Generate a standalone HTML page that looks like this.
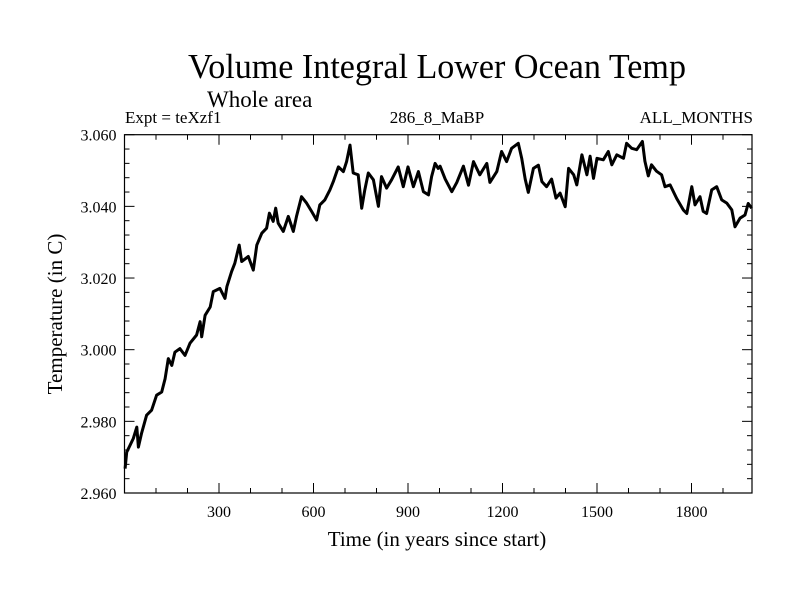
<!DOCTYPE html>
<html><head><meta charset="utf-8"><style>
html,body{margin:0;padding:0;background:#fff;}
svg{display:block;font-family:"Liberation Serif",serif;}
</style></head><body>
<svg id="chart" width="800" height="600" viewBox="0 0 800 600" xmlns="http://www.w3.org/2000/svg">
<rect width="800" height="600" fill="#fff"/>
<text x="437" y="78" font-size="35" text-anchor="middle" textLength="498" lengthAdjust="spacingAndGlyphs">Volume Integral Lower Ocean Temp</text>
<text x="207" y="107" font-size="23">Whole area</text>
<text x="125" y="123" font-size="17">Expt = teXzf1</text>
<text x="437" y="123" font-size="17" text-anchor="middle">286_8_MaBP</text>
<text x="753" y="123" font-size="17" text-anchor="end">ALL_MONTHS</text>
<g id="axes"></g>
<g id="series"></g>
<text x="437" y="546" font-size="21" text-anchor="middle">Time (in years since start)</text>
<text transform="translate(62,314) rotate(-90)" font-size="21" text-anchor="middle">Temperature (in C)</text>
</svg>
<script>
const years = [2,7,28,39,44,54,70,86,102,118,129,139,150,160,176,192,208,229,240,245,256,272,282,303,319,325,340,350,364,372,393,409,420,436,451,460,472,480,488,504,520,536,546,562,578,594,610,620,636,652,663,679,695,705,716,726,742,753,763,774,790,806,816,832,848,869,885,900,917,933,949,965,975,986,996,1002,1018,1039,1055,1076,1092,1108,1128,1150,1160,1182,1197,1213,1229,1250,1261,1272,1282,1298,1314,1325,1340,1356,1370,1383,1399,1410,1426,1436,1452,1468,1478,1489,1500,1520,1536,1547,1563,1584,1594,1610,1626,1644,1652,1663,1673,1689,1705,1716,1732,1753,1774,1785,1801,1811,1827,1837,1848,1864,1880,1896,1912,1928,1938,1954,1970,1980,1991];
const temps = [2.9668,2.9714,2.9752,2.9784,2.9728,2.9766,2.9817,2.9831,2.9873,2.9882,2.9919,2.9975,2.9956,2.9993,3.0003,2.9984,3.0018,3.0041,3.0078,3.0036,3.0096,3.0119,3.0162,3.0171,3.0143,3.0176,3.0218,3.0241,3.0292,3.0246,3.0260,3.0222,3.0292,3.0325,3.0339,3.0381,3.0358,3.0395,3.0353,3.0330,3.0372,3.0330,3.0372,3.0427,3.0409,3.0386,3.0362,3.0404,3.0418,3.0446,3.0469,3.0510,3.0497,3.0525,3.0571,3.0493,3.0488,3.0395,3.0446,3.0493,3.0474,3.0400,3.0483,3.0451,3.0474,3.0510,3.0455,3.0510,3.0455,3.0497,3.0441,3.0432,3.0483,3.0520,3.0506,3.0512,3.0476,3.0441,3.0467,3.0512,3.0459,3.0525,3.0488,3.0520,3.0467,3.0497,3.0553,3.0525,3.0562,3.0576,3.0534,3.0476,3.0439,3.0506,3.0515,3.0469,3.0455,3.0476,3.0423,3.0437,3.0399,3.0506,3.0488,3.0460,3.0544,3.0488,3.0540,3.0478,3.0534,3.0530,3.0553,3.0516,3.0544,3.0534,3.0576,3.0562,3.0558,3.0581,3.0526,3.0485,3.0516,3.0498,3.0488,3.0455,3.0460,3.0422,3.0390,3.0380,3.0455,3.0404,3.0427,3.0386,3.0380,3.0446,3.0455,3.0418,3.0409,3.0390,3.0343,3.0367,3.0376,3.0408,3.0395];
const xTicks = [300,600,900,1200,1500,1800];
const yTicks = [2.960,2.980,3.000,3.020,3.040,3.060];
const yTickLabels = ["2.960","2.980","3.000","3.020","3.040","3.060"];

const NS = "http://www.w3.org/2000/svg";
const L = 124.5, R = 752, T = 134.7, B = 493;
const xMin = 0, xMax = (R - L) / 0.315, yMin = 2.960, yMax = 3.060;
function xs(v){ return L + (v - xMin) / (xMax - xMin) * (R - L); }
function ys(v){ return B - (v - yMin) / (yMax - yMin) * (B - T); }
function mk(tag, attrs, parent){ const e = document.createElementNS(NS, tag); for (const k in attrs) e.setAttribute(k, attrs[k]); parent.appendChild(e); return e; }

const axes = document.getElementById('axes');
const frame = mk('rect', {x:L, y:T, width:R-L, height:B-T, fill:'none', stroke:'#000', 'stroke-width':1.2}, axes);



for (let v = 100; v < xMax; v += 100) {
  const major = xTicks.includes(v);
  const len = major ? 10 : 5;
  const x = xs(v);
  const t1 = mk('line', {x1:x, x2:x, y1:B, y2:B-len, stroke:'#000', 'stroke-width':1}, axes);
  
  
  const t2 = mk('line', {x1:x, x2:x, y1:T, y2:T+len, stroke:'#000', 'stroke-width':1}, axes);
  
  
}
xTicks.forEach(v => {
  const t = mk('text', {x:xs(v), y:B+24, 'font-size':16, 'text-anchor':'middle'}, axes);
  t.textContent = String(v);
  
  
});
for (let i = 0; i <= 25; i++) {
  const v = yMin + i * 0.004;
  const major = (i % 5 === 0);
  const len = major ? 10 : 5;
  const y = ys(v);
  const t1 = mk('line', {x1:L, x2:L+len, y1:y, y2:y, stroke:'#000', 'stroke-width':1}, axes);
  
  
  const t2 = mk('line', {x1:R, x2:R-len, y1:y, y2:y, stroke:'#000', 'stroke-width':1}, axes);
  
  
}
yTicks.forEach((v, i) => {
  const t = mk('text', {x:L-8, y:ys(v)+6, 'font-size':16, 'text-anchor':'end'}, axes);
  t.textContent = yTickLabels[i];
  
  
});

const series = document.getElementById('series');
const d = years.map((yr, i) => (i ? 'L' : 'M') + xs(yr).toFixed(1) + ',' + ys(temps[i]).toFixed(1)).join(' ');
const line = mk('path', {d:d, fill:'none', stroke:'#000', 'stroke-width':3, 'stroke-linejoin':'round'}, series);


</script>
</body></html>
